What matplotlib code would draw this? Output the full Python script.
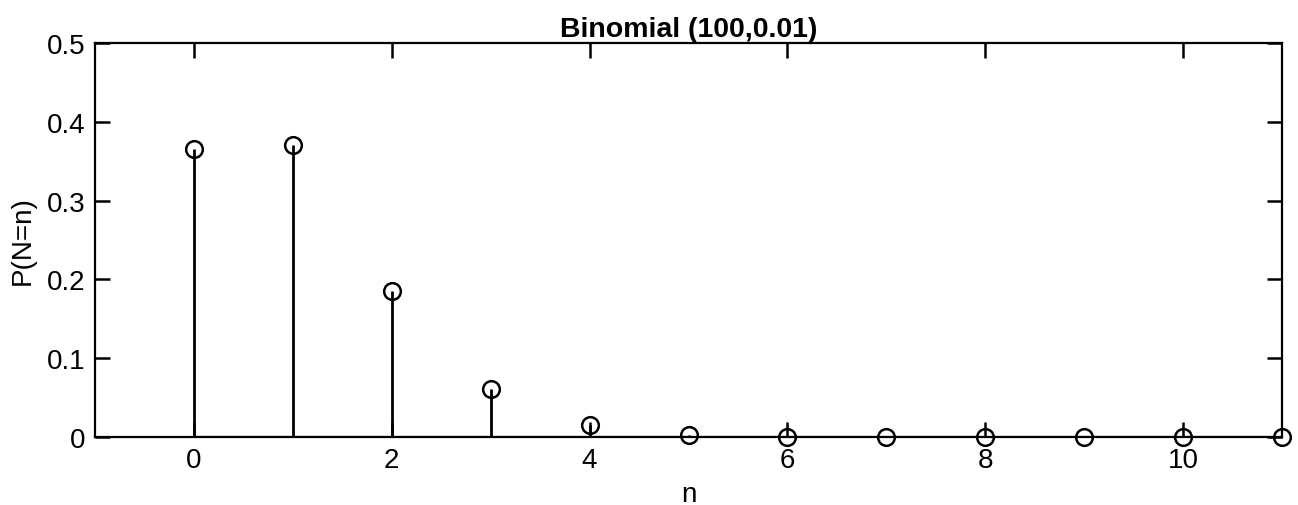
import matplotlib
matplotlib.use("Agg")
from matplotlib import pyplot as plt
import numpy as np

plt.rcParams['font.family'] = ['Liberation Sans', 'DejaVu Sans']

# values
n_vals = [0, 1, 2, 3, 4, 5, 6, 7, 8, 9, 10, 11]
p_vals = [0.366, 0.370, 0.185, 0.061, 0.015, 0.003, 0.0005, 0.0001, 0.0, 0.0, 0.0, 0.0]
xticks = [0, 2, 4, 6, 8, 10]
yticks = [0, 0.1, 0.2, 0.3, 0.4, 0.5]
ytick_labels = ["0", "0.1", "0.2", "0.3", "0.4", "0.5"]

fig = plt.figure(figsize=(12.98, 5.06), dpi=100)
ax = fig.add_axes([0.0732, 0.1344, 0.9145, 0.7786])

markerline, stemlines, baseline = ax.stem(n_vals, p_vals, linefmt='k-', markerfmt='ko', basefmt='k-')
markerline.set_markerfacecolor('none')
markerline.set_markersize(12)
markerline.set_markeredgewidth(1.8)
markerline.set_clip_on(False)
stemlines.set_linewidth(2)
baseline.set_linewidth(1.5)

ax.set_xlim(-1, 11)
ax.set_ylim(0, 0.5)
ax.set_xticks(xticks)
ax.set_yticks(yticks)
ax.set_yticklabels(ytick_labels)
ax.tick_params(direction='in', top=True, right=True, length=11, width=1.8, labelsize=20, pad=7)
for s in ax.spines.values():
    s.set_linewidth(1.6)

ax.set_title("Binomial (100,0.01)", fontsize=20.5, fontweight='bold', pad=5)
ax.set_xlabel("n", fontsize=20, labelpad=6)
ax.set_ylabel("P(N=n)", fontsize=20, labelpad=8)

fig.savefig("out.png", dpi=100)
